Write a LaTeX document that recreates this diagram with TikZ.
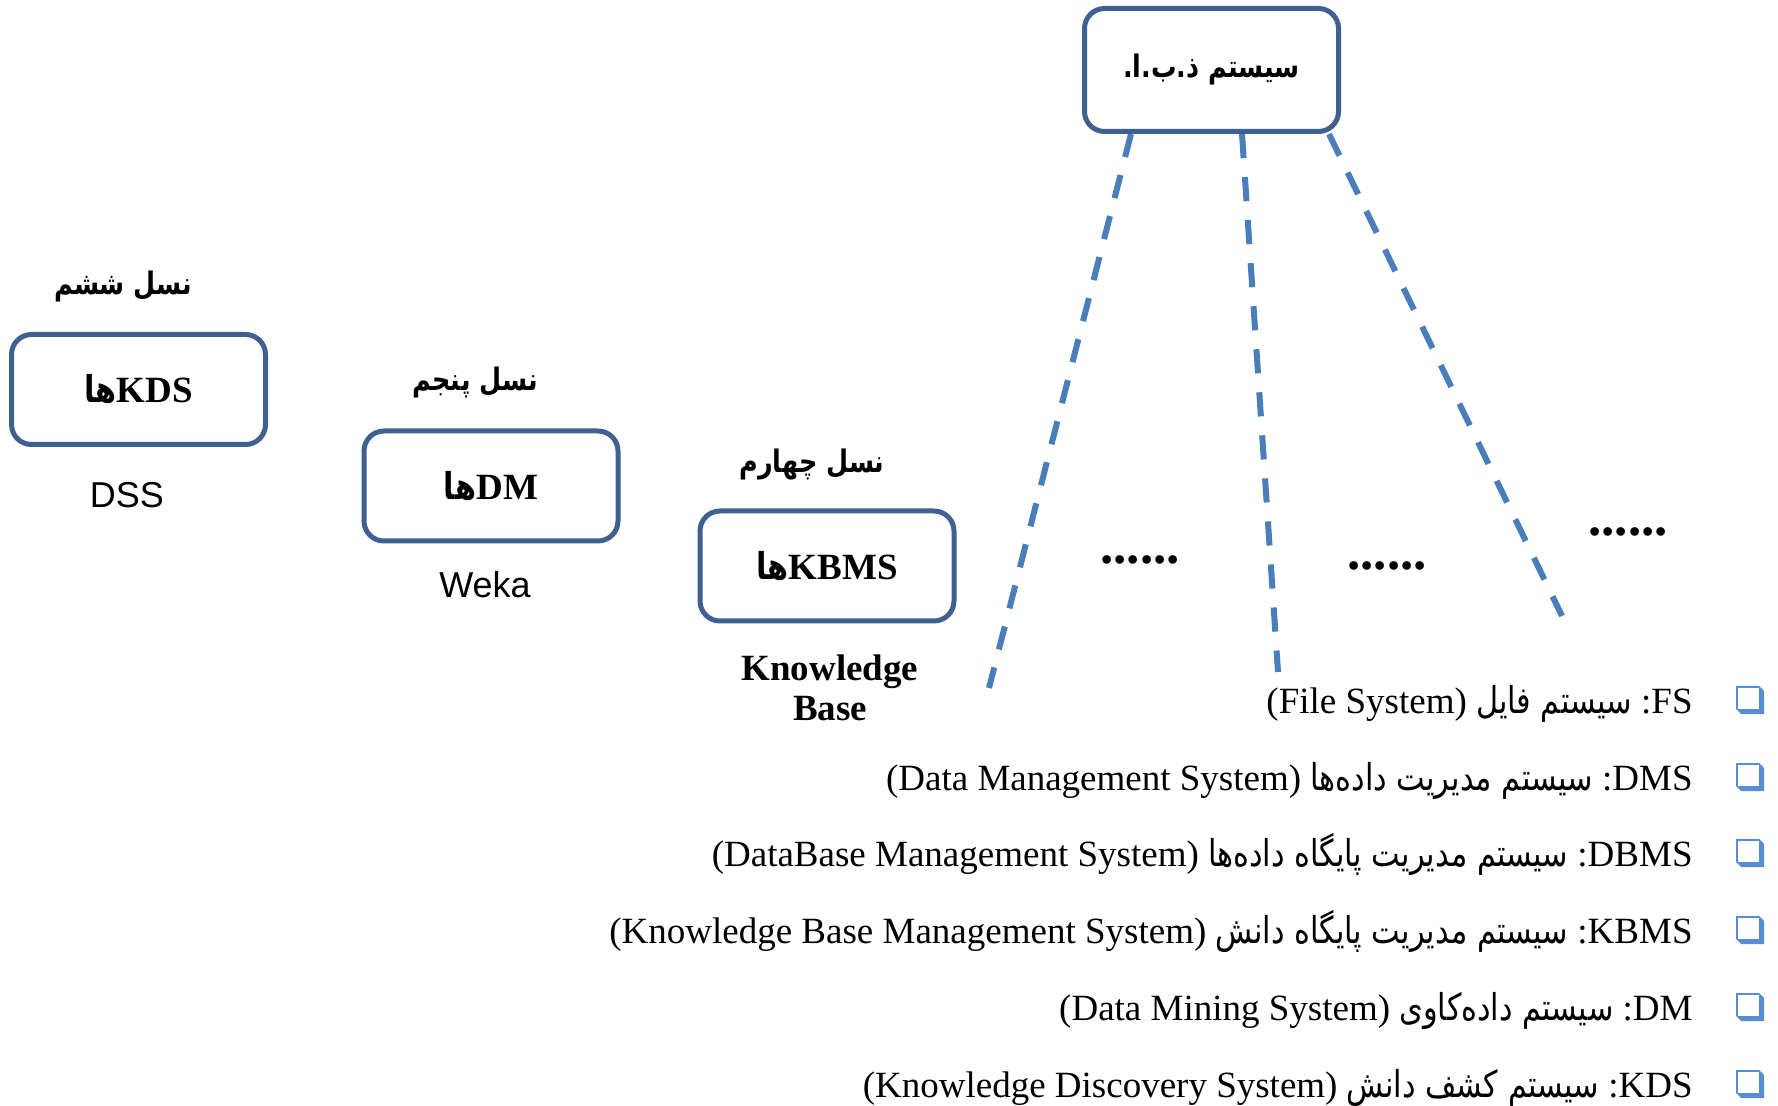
\documentclass[tikz,border=0pt]{standalone}
\usepackage{fontspec}
\setmainfont{Liberation Serif}
\newfontfamily\fa[Script=Arabic, FakeStretch=0.82]{DejaVu Sans}
\newfontfamily\arialf{Liberation Sans}
\TeXXeTstate=1
\usetikzlibrary{backgrounds}

\definecolor{boxblue}{RGB}{63,96,145}
\definecolor{dashblue}{RGB}{74,126,187}
\definecolor{bulletblue}{RGB}{88,141,212}

\tikzset{
  genbox/.style={draw=boxblue, line width=2.5pt, rounded corners=10pt, fill=white,
    minimum width=127pt, minimum height=55pt, inner sep=0pt,
    font=\bfseries\fontsize{18.5}{22}\selectfont},
  rootbox/.style={genbox, minimum height=61.5pt, font=\fa\bfseries\fontsize{15.5}{19}\selectfont},
  gentitle/.style={inner sep=0pt, font=\fa\bfseries\fontsize{15.5}{19}\selectfont},
  toolname/.style={inner sep=0pt, font=\arialf\fontsize{18}{22}\selectfont},
  baselabel/.style={inner sep=0pt, align=center, font=\bfseries\fontsize{18.5}{18}\selectfont},
  link/.style={draw=dashblue, line width=3pt},
  moredots/.style={inner sep=0pt, font=\bfseries\fontsize{26.5}{30}\selectfont},
  item/.style={anchor=base east, inner sep=0pt, font=\fontsize{18.5}{22}\selectfont},
  sqbullet/.pic={
    \fill[bulletblue] (-14,-14) -- (9,-14) -- (14,-9) -- (14,14) -- (-9,14) -- (-14,9) -- cycle;
    \fill[white] (-12,-12) rectangle (9,9);
  }
}

\newcommand{\fatext}[1]{{\fa\beginR #1\endR}}

\begin{document}
\begin{tikzpicture}[x=0.5pt,y=-0.5pt]
\useasboundingbox (0,0) rectangle (1778,1106);

% database system root
\node[rootbox] (sys) at (1211.5,70)
  {\fatext{سیستم ذ\kern0pt.\kern0pt ب\kern0pt.\kern0pt ا\kern0pt.}};

% generations
\node[gentitle] (t6) at (123,287) {\fatext{نسل ششم}};
\node[genbox] (kds) at (138.5,389.5) {\fatext{ها}KDS};
\node[toolname] (dss) at (127,495) {DSS};

\node[gentitle] (t5) at (475,383) {\fatext{نسل پنجم}};
\node[genbox] (dm) at (491,486) {\fatext{ها}DM};
\node[toolname] (weka) at (485,585) {Weka};

\node[gentitle] (t4) at (812,465) {\fatext{نسل چهارم}};
\node[genbox] (kbms) at (827,566) {\fatext{ها}KBMS};
\node[baselabel] (kb) at (830,688) {Knowledge\\[2pt]Base};

% branches of the root, each starting and ending with a dash
\coordinate (e1) at (989,688);
\coordinate (e2) at (1278,672);
\coordinate (e3) at (1562,616);
\begin{scope}[on background layer]
  \draw[link, dash pattern=on 11.88pt off 9.3pt] ([xshift=-40.25pt]sys.south) -- (e1);
  \draw[link, dash pattern=on 12.1pt off 9.47pt] ([xshift=15.25pt]sys.south) -- (e2);
  \draw[link, dash pattern=on 12pt off 9.4pt] ([xshift=58.75pt]sys.south) -- (e3);
\end{scope}

\node[moredots] (d1) at (1140,560) {......};
\node[moredots] (d2) at (1387,566) {......};
\node[moredots] (d3) at (1628,532) {......};

% abbreviations
\foreach \yy in {700,777,853,930,1007,1084} \pic at (1750,\yy) {sqbullet};

\node[item] (l1) at (1693,713) {(File System) \fatext{سیستم فایل} :FS};
\node[item] (l2) at (1693,790) {(Data Management System) \fatext{سیستم مدیریت داده‌ها} :DMS};
\node[item] (l3) at (1693,866) {(DataBase Management System) \fatext{سیستم مدیریت پایگاه داده‌ها} :DBMS};
\node[item] (l4) at (1693,943) {(Knowledge Base Management System) \fatext{سیستم مدیریت پایگاه دانش} :KBMS};
\node[item] (l5) at (1693,1020) {(Data Mining System) \fatext{سیستم داده‌کاوی} :DM};
\node[item] (l6) at (1693,1097) {(Knowledge Discovery System) \fatext{سیستم کشف دانش} :KDS};
\end{tikzpicture}
\end{document}
